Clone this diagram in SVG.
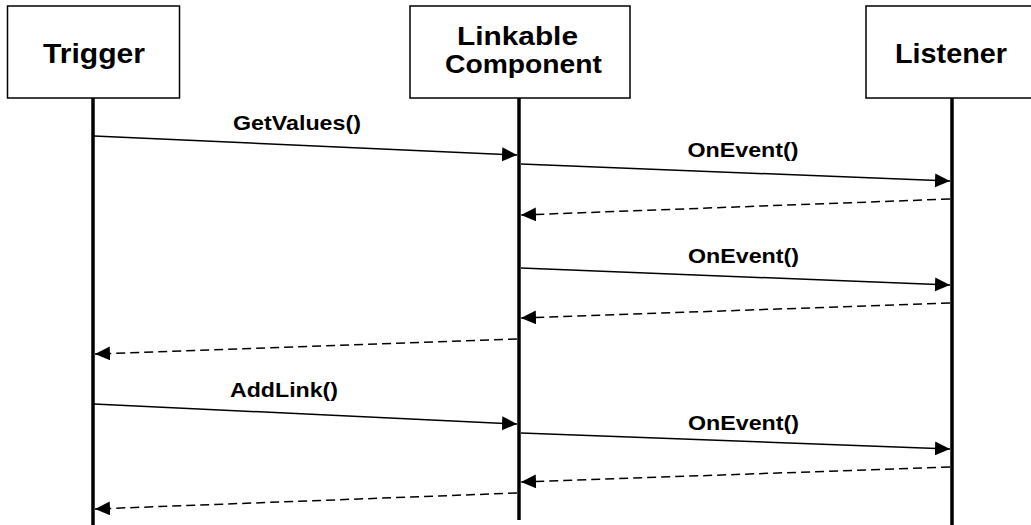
<svg xmlns="http://www.w3.org/2000/svg" width="1031" height="525" viewBox="0 0 1031 525">
  <style>
    .box { fill: #ffffff; stroke: #000000; stroke-width: 1.5; }
    .life { stroke: #000000; stroke-width: 3.5; fill: none; }
    .title { font-family: "Liberation Sans", Arial, sans-serif; font-weight: bold; font-size: 28px; fill: #000000; text-anchor: middle; }
    .title.two { font-size: 26px; }
    .label { font-family: "Liberation Sans", Arial, sans-serif; font-weight: bold; font-size: 21px; fill: #000000; text-anchor: middle; }
    .call { stroke: #000000; stroke-width: 1.5; fill: none; marker-end: url(#head); }
    .reply { stroke: #000000; stroke-width: 1.5; fill: none; stroke-dasharray: 9 5; marker-end: url(#head); }
  </style>
  <defs>
    <marker id="head" markerUnits="userSpaceOnUse" markerWidth="16" markerHeight="15" refX="15" refY="7" orient="auto">
      <path d="M0,0 L15,7 L0,14 Z" fill="#000000"/>
    </marker>
  </defs>
  <rect width="1031" height="525" fill="#ffffff"/>

  <!-- participants with their lifelines -->
  <g id="trigger">
    <rect class="box" x="7.5" y="6" width="172" height="92"/>
    <line class="life" x1="93" y1="98" x2="93" y2="525"/>
    <text class="title" x="94" y="63" textLength="102" lengthAdjust="spacingAndGlyphs">Trigger</text>
  </g>
  <g id="linkable-component">
    <rect class="box" x="410" y="6" width="220" height="92"/>
    <line class="life" x1="519" y1="98" x2="519" y2="520"/>
    <text class="title two" x="517.5" y="45" textLength="121" lengthAdjust="spacingAndGlyphs">Linkable</text>
    <text class="title two" x="523.5" y="73" textLength="157" lengthAdjust="spacingAndGlyphs">Component</text>
  </g>
  <g id="listener">
    <rect class="box" x="866" y="6" width="200" height="92"/>
    <line class="life" x1="952" y1="98" x2="952" y2="525"/>
    <text class="title" x="951" y="63" textLength="112" lengthAdjust="spacingAndGlyphs">Listener</text>
  </g>

  <!-- messages -->
  <g id="messages">
    <line class="call" x1="94" y1="136" x2="517" y2="155"/>
    <text class="label" x="297" y="130" textLength="128" lengthAdjust="spacingAndGlyphs">GetValues()</text>

    <line class="call" x1="521" y1="164" x2="950" y2="181"/>
    <text class="label" x="743" y="157" textLength="111" lengthAdjust="spacingAndGlyphs">OnEvent()</text>
    <line class="reply" x1="950" y1="199" x2="521" y2="215"/>

    <line class="call" x1="521" y1="268" x2="950" y2="285"/>
    <text class="label" x="743.5" y="263" textLength="111" lengthAdjust="spacingAndGlyphs">OnEvent()</text>
    <line class="reply" x1="950" y1="303" x2="521" y2="318"/>

    <line class="reply" x1="517" y1="339" x2="95" y2="354"/>

    <line class="call" x1="94" y1="404" x2="517" y2="424"/>
    <text class="label" x="284" y="397" textLength="108" lengthAdjust="spacingAndGlyphs">AddLink()</text>

    <line class="call" x1="521" y1="433" x2="950" y2="449"/>
    <text class="label" x="743.5" y="430" textLength="111" lengthAdjust="spacingAndGlyphs">OnEvent()</text>
    <line class="reply" x1="950" y1="467" x2="521" y2="482"/>

    <line class="reply" x1="517" y1="493" x2="95" y2="509"/>
  </g>
</svg>
